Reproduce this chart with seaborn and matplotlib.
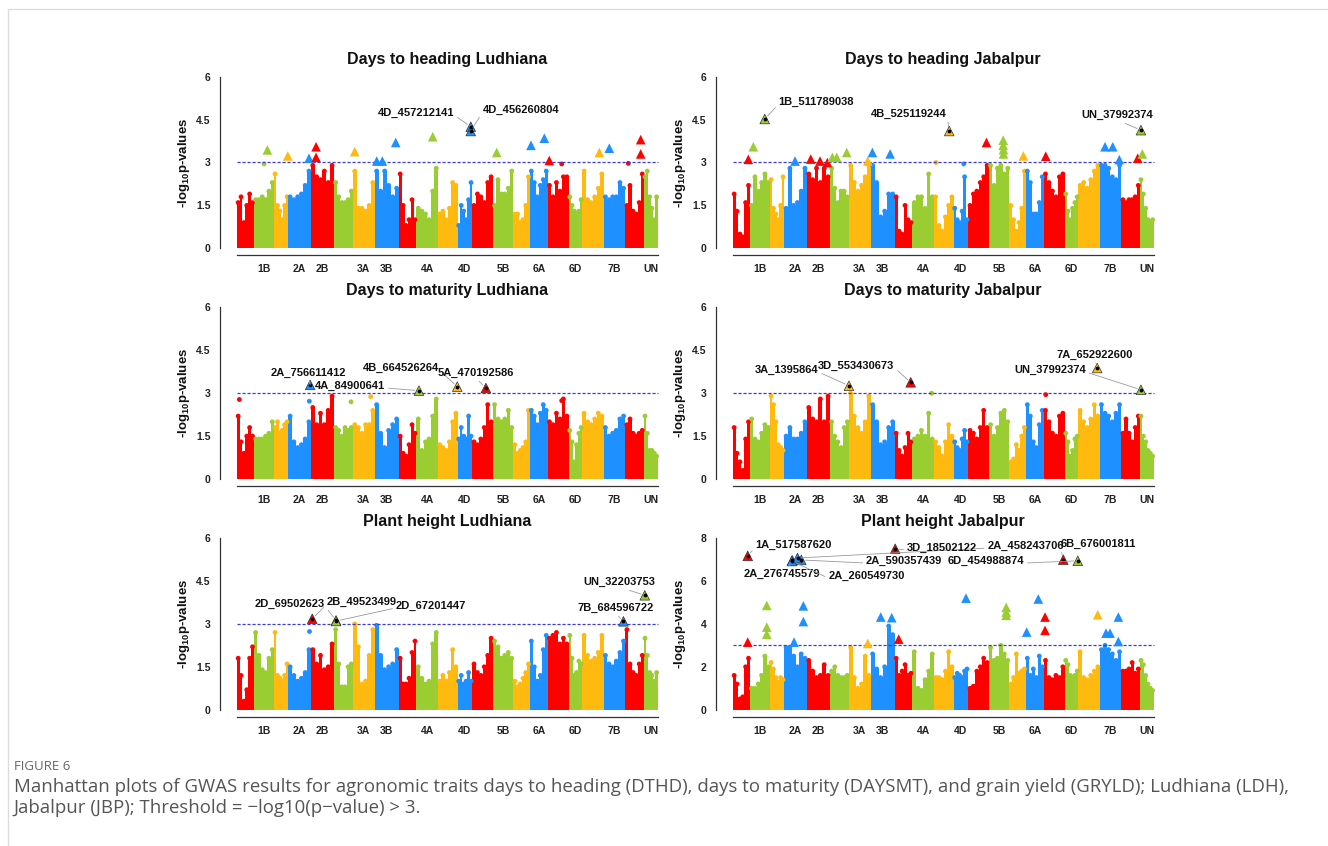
import numpy as np
import pandas as pd
import matplotlib
matplotlib.use('Agg')
import matplotlib.pyplot as plt
import seaborn as sns

#BEGIN DATA

CHROMS = ['1A', '1B', '1D', '2A', '2B', '2D', '3A', '3B', '3D', '4A', '4B', '4D',
          '5A', '5B', '5D', '6A', '6B', '6D', '7A', '7B', '7D', 'UN']
#chromosome lengths in Mb
CHR_LEN = [594.1, 689.9, 495.5, 780.8, 801.3, 651.9, 750.8, 830.8, 615.6, 744.6, 673.6, 509.9,
           709.8, 713.1, 566.1, 618.1, 720.9, 473.6, 736.7, 750.6, 638.7, 481.0]
SHOWN = ['1B', '2A', '2B', '3A', '3B', '4A', '4D', '5B', '6A', '6D', '7B', 'UN']

#upper edge of the dense SNP cloud, 6 slices per chromosome (-log10 p)
dth_ldh_cloud = [[1.6, 1.8, 0.9, 1.5, 1.9, 1.6], [1.7, 1.7, 1.8, 1.7, 2.0, 2.3], [2.6, 1.5, 1.3, 1.0, 1.5, 1.8],
                 [1.8, 1.7, 1.8, 1.9, 2.2, 2.7], [2.9, 2.5, 2.4, 2.7, 2.3, 2.9], [2.3, 1.8, 1.6, 1.6, 1.7, 2.0],
                 [2.7, 1.4, 1.4, 1.3, 1.5, 2.3], [2.7, 2.0, 2.7, 2.2, 1.8, 2.1], [2.6, 1.5, 0.8, 1.0, 1.7, 1.0],
                 [1.4, 1.3, 1.2, 1.0, 2.0, 2.8], [1.2, 1.3, 1.0, 1.4, 2.3, 2.2], [0.8, 1.5, 1.3, 1.0, 1.7, 2.3],
                 [1.5, 1.9, 1.8, 1.6, 2.3, 2.5], [1.5, 2.4, 1.9, 1.9, 2.1, 2.7], [1.2, 1.2, 0.9, 1.0, 1.5, 2.5],
                 [2.7, 2.3, 1.8, 2.2, 2.4, 2.7], [2.2, 1.8, 2.3, 2.0, 2.5, 2.5], [1.8, 1.5, 1.3, 1.2, 1.3, 1.7],
                 [2.7, 1.7, 1.6, 1.8, 2.1, 2.6], [1.8, 1.7, 1.8, 1.8, 2.3, 2.1], [1.5, 2.2, 1.3, 1.2, 1.6, 2.6],
                 [2.5, 2.7, 1.8, 1.4, 1.0, 1.8]]
dth_ldh_hit_chr = ['1B', '1D', '2A', '2B', '2B', '3A', '3B', '3B', '3B', '4A', '4D', '4D', '5B', '6A', '6A',
                   '6B', '7A', '7B', '7D', '7D']
dth_ldh_hit_pos = [464, 478, 718, 180, 180, 63, 73, 267, 729, 561, 457.2, 456.3, 134, 40, 500,
                   54, 588, 196, 530, 530]
dth_ldh_hit_val = [3.44, 3.23, 3.15, 3.55, 3.18, 3.38, 3.05, 3.05, 3.7, 3.9, 4.25, 4.1, 3.35, 3.6, 3.85,
                   3.07, 3.35, 3.5, 3.8, 3.3]
dth_ldh_hit_lab = ['', '', '', '', '', '', '', '', '', '', '4D_457212141', '4D_456260804', '', '', '',
                   '', '', '', '', '']
dth_ldh_dot_chr = ['1B', '6B', '7D']
dth_ldh_dot_pos = [349, 483, 102]
dth_ldh_dot_val = [2.95, 2.95, 2.97]

dth_jbp_cloud = [[1.9, 1.3, 0.5, 0.4, 1.6, 2.2], [1.5, 2.5, 2.0, 2.3, 2.6, 2.3], [2.4, 1.4, 1.2, 1.0, 1.5, 2.5],
                 [1.4, 2.8, 1.5, 1.6, 2.0, 2.8], [2.6, 2.4, 2.8, 2.3, 2.8, 2.5], [2.8, 2.1, 1.6, 2.0, 2.0, 1.8],
                 [2.9, 2.3, 2.0, 2.2, 2.5, 2.9], [2.9, 2.3, 1.1, 1.3, 1.9, 1.9], [1.8, 0.6, 0.5, 1.5, 1.0, 0.9],
                 [1.6, 1.8, 1.8, 1.4, 2.6, 1.8], [1.8, 0.8, 0.6, 1.1, 1.5, 1.8], [1.4, 1.0, 0.9, 1.3, 2.5, 1.0],
                 [1.5, 1.9, 2.0, 2.3, 2.5, 2.9], [2.9, 2.2, 2.8, 2.9, 2.6, 2.8], [1.5, 1.0, 0.6, 0.9, 1.4, 2.7],
                 [2.7, 2.3, 1.2, 1.2, 1.6, 2.5], [2.6, 2.3, 2.0, 1.8, 2.5, 2.6], [1.9, 1.3, 1.0, 1.4, 1.6, 1.8],
                 [2.2, 2.3, 2.1, 2.4, 2.7, 2.9], [2.9, 2.9, 2.8, 2.5, 2.4, 2.9], [1.7, 1.6, 1.7, 1.7, 1.8, 2.2],
                 [2.4, 1.9, 1.4, 1.0, 0.9, 1.0]]
dth_jbp_hit_chr = ['1A', '1B', '1B', '2A', '2B', '2B', '2B', '2D', '2D', '2D', '3A', '3B', '3B', '4B', '5A',
                   '5B', '5B', '5B', '5B', '5D', '6B', '7B', '7B', '7B', '7D', 'UN', 'UN']
dth_jbp_hit_pos = [539, 118, 511.8, 373, 135, 456, 709, 80, 232, 577, 651, 61, 673, 525.1, 628,
                   497, 497, 505, 505, 480, 69, 186, 452, 680, 565, 86, 38.0]
dth_jbp_hit_val = [3.11, 3.55, 4.52, 3.05, 3.12, 3.05, 3.0, 3.18, 3.18, 3.35, 3.05, 3.35, 3.3, 4.1, 3.7,
                   3.78, 3.6, 3.45, 3.3, 3.23, 3.22, 3.55, 3.55, 3.1, 3.15, 3.3, 4.13]
dth_jbp_hit_lab = ['', '', '1B_511789038', '', '', '', '', '', '', '', '', '', '', '4B_525119244', '',
                   '', '', '', '', '', '', '', '', '', '', '', 'UN_37992374']
dth_jbp_dot_chr = ['4B', '4D']
dth_jbp_dot_pos = [68, 354]
dth_jbp_dot_val = [3.0, 2.95]

dm_ldh_cloud = [[2.2, 1.3, 0.9, 1.5, 1.8, 1.5], [1.4, 1.4, 1.4, 1.5, 1.6, 2.0], [1.8, 2.0, 1.6, 1.7, 1.9, 2.0],
                [2.2, 1.3, 1.1, 1.2, 1.4, 2.0], [2.5, 1.9, 2.3, 1.9, 2.4, 2.9], [1.8, 1.7, 1.5, 1.8, 1.7, 1.8],
                [1.9, 1.8, 1.6, 1.9, 1.9, 2.4], [2.6, 1.6, 1.1, 1.7, 1.9, 2.1], [1.5, 0.9, 0.8, 1.2, 1.9, 1.6],
                [2.1, 1.0, 1.3, 1.4, 2.2, 2.8], [1.2, 1.1, 1.0, 1.3, 2.0, 2.3], [1.4, 1.8, 1.5, 1.4, 2.2, 1.5],
                [1.3, 1.2, 1.4, 1.8, 2.6, 2.0], [2.6, 2.1, 2.0, 2.1, 2.4, 1.8], [1.2, 0.9, 1.0, 1.1, 1.3, 2.4],
                [2.4, 2.2, 1.9, 2.3, 2.6, 2.4], [2.0, 1.9, 2.3, 2.1, 2.8, 2.2], [1.7, 1.3, 0.6, 1.2, 1.6, 1.8],
                [2.3, 2.0, 1.9, 2.1, 2.3, 2.2], [1.8, 1.5, 1.6, 1.7, 2.1, 2.2], [1.9, 2.1, 1.6, 1.5, 1.6, 1.7],
                [2.2, 1.6, 1.0, 1.0, 0.9, 0.8]]
dm_ldh_hit_chr = ['2A', '4A', '4B', '5A']
dm_ldh_hit_pos = [756.6, 84.9, 664.5, 470.2]
dm_ldh_hit_val = [3.29, 3.09, 3.23, 3.18]
dm_ldh_hit_lab = ['2A_756611412', '4A_84900641', '4B_664526264', '5A_470192586']
dm_ldh_dot_chr = ['1A', '2A', '2D', '3A', '6B']
dm_ldh_dot_pos = [90, 729, 588, 616, 483]
dm_ldh_dot_val = [2.78, 2.72, 2.7, 2.88, 2.74]

dm_jbp_cloud = [[1.8, 0.9, 0.6, 0.3, 1.4, 2.0], [2.1, 1.4, 1.3, 1.6, 1.9, 1.8], [2.9, 2.6, 2.0, 1.2, 1.1, 1.0],
                [1.5, 1.8, 1.4, 1.4, 1.6, 2.0], [2.5, 2.1, 2.0, 2.8, 2.0, 2.9], [2.0, 1.5, 1.3, 1.1, 1.8, 2.0],
                [3.0, 2.2, 1.8, 1.6, 2.0, 2.9], [2.6, 2.0, 1.2, 1.3, 1.8, 2.0], [1.6, 1.0, 0.8, 1.1, 1.6, 1.3],
                [1.4, 1.5, 1.7, 1.5, 2.3, 1.4], [1.3, 1.1, 0.8, 1.3, 1.9, 1.5], [1.3, 1.1, 1.0, 1.4, 1.7, 1.3],
                [1.7, 1.6, 1.4, 1.8, 2.4, 1.8], [1.9, 1.5, 1.8, 2.3, 2.4, 2.0], [0.6, 0.7, 1.2, 1.0, 1.5, 1.8],
                [2.6, 2.2, 1.3, 1.1, 1.9, 2.4], [2.4, 2.0, 1.6, 1.5, 2.2, 2.3], [1.6, 1.3, 0.8, 1.0, 1.4, 1.5],
                [2.4, 2.0, 1.8, 2.1, 2.6, 2.2], [2.6, 2.3, 2.2, 2.0, 2.3, 2.6], [1.6, 2.1, 1.6, 1.3, 1.8, 2.2],
                [2.2, 1.5, 1.3, 1.0, 0.9, 0.8]]
dm_jbp_hit_chr = ['3A', '3D', '7A', 'UN']
dm_jbp_hit_pos = [1.4, 553.4, 652.9, 38.0]
dm_jbp_hit_val = [3.26, 3.38, 3.88, 3.12]
dm_jbp_hit_lab = ['3A_1395864', '3D_553430673', '7A_652922600', 'UN_37992374']
dm_jbp_dot_chr = ['4A', '6B']
dm_jbp_dot_pos = [659, 69]
dm_jbp_dot_val = [3.0, 2.95]

ph_ldh_cloud = [[1.8, 1.2, 0.3, 0.7, 1.8, 2.2], [2.7, 1.9, 1.4, 1.3, 1.8, 2.1], [2.7, 1.2, 1.1, 1.0, 1.2, 1.6],
                [1.5, 1.2, 1.0, 1.1, 1.3, 2.1], [2.1, 1.6, 1.9, 1.4, 1.5, 2.3], [2.8, 1.6, 0.8, 0.8, 1.5, 1.6],
                [3.0, 2.2, 0.9, 1.0, 1.9, 2.8], [2.95, 1.9, 1.4, 1.5, 1.6, 2.1], [1.8, 0.9, 0.9, 1.1, 2.0, 2.4],
                [1.5, 1.1, 0.9, 1.0, 2.3, 2.7], [1.0, 1.2, 1.0, 1.3, 2.1, 1.5], [1.0, 1.2, 0.9, 1.0, 1.3, 1.0],
                [1.6, 1.3, 1.2, 1.5, 1.9, 2.5], [2.4, 2.2, 1.8, 1.9, 2.0, 1.8], [1.0, 0.8, 0.9, 1.1, 1.3, 1.6],
                [2.4, 1.5, 1.0, 1.2, 2.1, 2.6], [2.5, 2.6, 2.7, 2.3, 2.5, 2.3], [2.6, 1.8, 1.2, 1.3, 1.7, 1.6],
                [2.6, 1.9, 1.7, 1.8, 2.0, 2.6], [1.9, 1.6, 1.5, 1.7, 2.0, 2.4], [2.8, 1.6, 1.3, 1.2, 1.6, 1.9],
                [2.5, 1.9, 1.3, 1.2, 1.0, 1.3]]
ph_ldh_hit_chr = ['2B', '2D', '2D', '7B', 'UN']
ph_ldh_hit_pos = [49.5, 69.5, 67.2, 684.6, 32.2]
ph_ldh_hit_val = [3.18, 3.12, 3.1, 3.09, 4.0]
ph_ldh_hit_lab = ['2B_49523499', '2D_69502623', '2D_67201447', '7B_684596722', 'UN_32203753']
ph_ldh_dot_chr = ['2A']
ph_ldh_dot_pos = [718]
ph_ldh_dot_val = [2.75]

ph_jbp_cloud = [[1.6, 1.2, 0.5, 0.6, 2.0, 2.4], [1.0, 1.0, 1.2, 1.6, 2.5, 2.0], [2.2, 1.9, 1.5, 1.3, 1.5, 1.4],
                [2.9, 2.9, 2.5, 2.0, 2.6, 2.4], [2.3, 1.8, 1.5, 1.6, 2.1, 1.6], [1.8, 2.0, 1.6, 1.5, 1.5, 1.6],
                [2.9, 1.5, 1.0, 1.2, 2.5, 1.6], [2.6, 1.9, 1.5, 2.0, 3.9, 3.5], [2.4, 1.6, 1.8, 2.1, 1.6, 1.7],
                [2.7, 1.0, 0.9, 1.4, 1.8, 2.6], [1.5, 1.5, 1.4, 1.8, 2.7, 2.0], [1.5, 1.7, 1.6, 1.5, 1.8, 1.9],
                [1.0, 1.1, 1.8, 2.0, 2.4, 2.2], [2.9, 2.3, 2.4, 3.0, 2.6, 2.3], [1.2, 1.5, 2.6, 1.7, 1.8, 1.9],
                [2.4, 1.6, 1.9, 1.5, 2.5, 2.0], [2.3, 1.5, 1.4, 1.6, 1.5, 2.0], [2.3, 2.1, 1.6, 1.5, 1.6, 1.8],
                [2.7, 1.5, 1.4, 1.6, 1.8, 2.0], [2.8, 3.0, 2.8, 2.6, 2.3, 2.7], [1.8, 1.8, 1.9, 2.2, 1.7, 1.9],
                [2.3, 2.1, 1.6, 1.2, 1.0, 0.9]]
ph_jbp_hit_chr = ['1A', '1A', '1B', '1B', '1B', '2A', '2A', '2A', '2A', '2A', '2A', '2A', '3A', '3B', '3B', '3D',
                  '3D', '4D', '5B', '5B', '5B', '6A', '6A', '6B', '6B', '6B', '6D', '7A', '7B', '7B', '7B', '7B']
ph_jbp_hit_pos = [517.6, 517.6, 581, 581, 581, 338, 660, 660, 276.7, 260.5, 590.4, 458.2, 651, 349, 729, 18.5,
                  140, 431, 601, 601, 601, 29, 430, 44, 44, 676.0, 455.0, 671, 221, 359, 647, 647]
ph_jbp_hit_val = [7.17, 3.15, 4.86, 3.85, 3.52, 3.15, 4.84, 4.11, 6.96, 6.93, 6.98, 7.07, 3.09, 4.32, 4.29, 7.5,
                  3.29, 5.2, 4.77, 4.55, 4.4, 3.62, 5.16, 4.32, 3.7, 6.99, 6.94, 4.43, 3.57, 3.57, 4.32, 3.18]
ph_jbp_hit_lab = ['1A_517587620', '', '', '', '', '', '', '', '2A_276745579', '2A_260549730', '2A_590357439',
                  '2A_458243706', '', '', '', '3D_18502122', '', '', '', '', '', '', '', '', '', '6B_676001811',
                  '6D_454988874', '', '', '', '', '']
ph_jbp_dot_chr = []
ph_jbp_dot_pos = []
ph_jbp_dot_val = []

#END DATA
#BEGIN LAYOUT

#label centres in axes fraction
LABEL_POS = {
    '4D_457212141': (0.431, 0.767), '4D_456260804': (0.662, 0.783),
    '1B_511789038': (0.221, 0.826), '4B_525119244': (0.425, 0.762), 'UN_37992374': (0.883, 0.756),
    '2A_756611412': (0.195, 0.609), '4A_84900641': (0.287, 0.539), '4B_664526264': (0.398, 0.636),
    '5A_470192586': (0.563, 0.609),
    '3A_1395864': (0.156, 0.625), '3D_553430673': (0.309, 0.647), '7A_652922600': (0.834, 0.706),
    'UN_37992374_dm': (0.735, 0.625),
    '2D_69502623': (0.154, 0.607), '2B_49523499': (0.3125, 0.618), '2D_67201447': (0.464, 0.597),
    'UN_32203753': (0.878, 0.726), '7B_684596722': (0.870, 0.586),
    '1A_517587620': (0.171, 0.926), '2A_276745579': (0.144, 0.769), '2A_260549730': (0.331, 0.758),
    '2A_590357439': (0.414, 0.839), '3D_18502122': (0.497, 0.909), '6D_454988874': (0.594, 0.839),
    '2A_458243706': (0.681, 0.920), '6B_676001811': (0.840, 0.930),
}

PALETTE = ['#FF0000', '#9ACD32', '#FFB90F', '#1E90FF']
CHR_COL = {c: PALETTE[i % 4] for i, c in enumerate(CHROMS)}
CHR_START = dict(zip(CHROMS, np.concatenate([[0], np.cumsum(CHR_LEN)[:-1]])))
TOTAL = float(np.sum(CHR_LEN))
CENTERS = [CHR_START[c] + l / 2 for c, l in zip(CHROMS, CHR_LEN)]

W, H = 1328, 846
sns.set_style('white')
plt.rcParams['font.family'] = ['Liberation Sans', 'DejaVu Sans']
plt.rcParams['mathtext.fontset'] = 'custom'
plt.rcParams['mathtext.rm'] = 'Liberation Sans:bold'
plt.rcParams['mathtext.it'] = 'Liberation Sans:bold'
plt.rcParams['mathtext.bf'] = 'Liberation Sans:bold'

fig = plt.figure(figsize=(W / 100, H / 100), dpi=100)

AX_W, AX_H = 454.7, 185.4
COL_LEFT = [219.9, 715.9]
ROW_BOTTOM = [255.2, 485.9, 716.6]


def add_ax(col, row):
    l = COL_LEFT[col] / W
    b = 1 - ROW_BOTTOM[row] / H
    return fig.add_axes([l, b, AX_W / W, AX_H / H])


def manhattan(ax, title, cloud, hchr, hpos, hval, hlab, dchr, dpos, dval, ymax, yticks, tag=''):
    #dense cloud as filled slices
    rows = []
    for c, l, hs in zip(CHROMS, CHR_LEN, cloud):
        w = l / len(hs)
        for j, h in enumerate(hs):
            rows.append((c, CHR_START[c] + (j + 0.5) * w, h, w))
    cl = pd.DataFrame(rows, columns=['chrom', 'x', 'h', 'w'])
    ax.bar(cl['x'], cl['h'], width=cl['w'], color=cl['chrom'].map(CHR_COL), linewidth=0)
    sns.scatterplot(data=cl, x='x', y='h', hue='chrom', palette=CHR_COL, s=12, linewidth=0,
                    legend=False, ax=ax)

    if dchr:
        dd = pd.DataFrame({'chrom': dchr, 'x': [CHR_START[c] + p for c, p in zip(dchr, dpos)], 'y': dval})
        sns.scatterplot(data=dd, x='x', y='y', hue='chrom', palette=CHR_COL, s=12, linewidth=0,
                        legend=False, ax=ax)

    ax.hlines(3, 0, TOTAL, colors='#3c3cd0', linestyles=(0, (2.5, 1.5)), lw=0.9, zorder=3)

    hits = pd.DataFrame({'chrom': hchr, 'x': [CHR_START[c] + p for c, p in zip(hchr, hpos)],
                         'y': hval, 'lab': hlab})
    plain = hits[hits['lab'] == '']
    named = hits[hits['lab'] != '']
    sns.scatterplot(data=plain, x='x', y='y', hue='chrom', palette=CHR_COL, marker='^', s=48,
                    linewidth=0, legend=False, ax=ax, zorder=4)
    sns.scatterplot(data=named, x='x', y='y', hue='chrom', palette=CHR_COL, marker='^', s=48,
                    edgecolor='#333333', linewidth=0.5, legend=False, ax=ax, zorder=4)
    ax.scatter(named['x'], named['y'], s=3, color='black', zorder=5)

    x0, x1 = -0.04 * TOTAL, 1.04 * TOTAL
    ax.set_xlim(x0, x1)
    ax.set_ylim(-0.04 * ymax, 1.04 * ymax)

    for _, r in named.iterrows():
        key = r['lab'] + tag if (r['lab'] + tag) in LABEL_POS else r['lab']
        xf, yf = LABEL_POS[key]
        tx = (r['x'] - x0) / (x1 - x0)
        if abs(tx - xf) < 0.07:
            rp = (0.5, 0.0)
        elif tx < xf:
            rp = (0.0, 0.3)
        else:
            rp = (1.0, 0.3)
        ax.annotate(r['lab'], xy=(r['x'], r['y']), xytext=(xf, yf), textcoords='axes fraction',
                    ha='center', va='center', fontsize=8, fontweight='bold', color='#111111',
                    arrowprops=dict(arrowstyle='-', color='#9a9a9a', lw=0.6, shrinkA=0, shrinkB=3,
                                    relpos=rp), zorder=6)

    for s in ['top', 'right']:
        ax.spines[s].set_visible(False)
    for s in ['left', 'bottom']:
        ax.spines[s].set_color('#333333')
        ax.spines[s].set_linewidth(0.9)
    ax.spines['left'].set_bounds(0, ymax)
    ax.spines['bottom'].set_bounds(0, TOTAL)

    ax.set_xticks([0] + CENTERS)
    ax.set_xticklabels([''] + [c if c in SHOWN else '' for c in CHROMS])
    ax.set_yticks(yticks)
    ax.set_yticklabels([('%g' % v) for v in yticks])
    ax.tick_params(axis='both', length=4, width=0.8, color='#333333', pad=2.5, labelsize=7.5)
    for t in ax.get_xticklabels() + ax.get_yticklabels():
        t.set_fontweight('bold')
        t.set_color('#222222')
    ax.set_xlabel('')
    ax.set_ylabel('-log$_{10}$p-values', fontsize=9.5, fontweight='bold', color='#111111')
    ax.yaxis.set_label_coords(-0.062, 0.5)
    ax.set_title(title, fontsize=11.5, fontweight='bold', pad=4, color='#111111')

#END LAYOUT
#BEGIN PLOTTING

Y6 = [0, 1.5, 3, 4.5, 6]
Y8 = [0, 2, 4, 6, 8]

manhattan(add_ax(0, 0), 'Days to heading Ludhiana', dth_ldh_cloud, dth_ldh_hit_chr, dth_ldh_hit_pos,
          dth_ldh_hit_val, dth_ldh_hit_lab, dth_ldh_dot_chr, dth_ldh_dot_pos, dth_ldh_dot_val, 6, Y6)
manhattan(add_ax(1, 0), 'Days to heading Jabalpur', dth_jbp_cloud, dth_jbp_hit_chr, dth_jbp_hit_pos,
          dth_jbp_hit_val, dth_jbp_hit_lab, dth_jbp_dot_chr, dth_jbp_dot_pos, dth_jbp_dot_val, 6, Y6)
manhattan(add_ax(0, 1), 'Days to maturity Ludhiana', dm_ldh_cloud, dm_ldh_hit_chr, dm_ldh_hit_pos,
          dm_ldh_hit_val, dm_ldh_hit_lab, dm_ldh_dot_chr, dm_ldh_dot_pos, dm_ldh_dot_val, 6, Y6)
manhattan(add_ax(1, 1), 'Days to maturity Jabalpur', dm_jbp_cloud, dm_jbp_hit_chr, dm_jbp_hit_pos,
          dm_jbp_hit_val, dm_jbp_hit_lab, dm_jbp_dot_chr, dm_jbp_dot_pos, dm_jbp_dot_val, 6, Y6, tag='_dm')
manhattan(add_ax(0, 2), 'Plant height Ludhiana', ph_ldh_cloud, ph_ldh_hit_chr, ph_ldh_hit_pos,
          ph_ldh_hit_val, ph_ldh_hit_lab, ph_ldh_dot_chr, ph_ldh_dot_pos, ph_ldh_dot_val, 6, Y6)
manhattan(add_ax(1, 2), 'Plant height Jabalpur', ph_jbp_cloud, ph_jbp_hit_chr, ph_jbp_hit_pos,
          ph_jbp_hit_val, ph_jbp_hit_lab, ph_jbp_dot_chr, ph_jbp_dot_pos, ph_jbp_dot_val, 8, Y8)

#page frame and caption
fig.add_artist(plt.Line2D([8 / W, 1], [1 - 9 / H, 1 - 9 / H], color='#dcdcdc', lw=1))
fig.add_artist(plt.Line2D([8 / W, 8 / W], [0, 1 - 9 / H], color='#dcdcdc', lw=1))
fig.text(14 / W, 1 - 766 / H, 'FIGURE 6', fontsize=9.5, color='#666666', va='center',
         family=['Open Sans', 'DejaVu Sans'])
fig.text(14 / W, 1 - 787 / H, 'Manhattan plots of GWAS results for agronomic traits days to heading (DTHD), '
         'days to maturity (DAYSMT), and grain yield (GRYLD); Ludhiana (LDH),', fontsize=13.4,
         color='#555555', va='center', family=['Open Sans', 'DejaVu Sans'])
fig.text(14 / W, 1 - 808 / H, 'Jabalpur (JBP); Threshold = \u2212log10(p\u2212value) > 3.', fontsize=13.4,
         color='#555555', va='center', family=['Open Sans', 'DejaVu Sans'])

fig.savefig('out.png', dpi=100)

#END PLOTTING
